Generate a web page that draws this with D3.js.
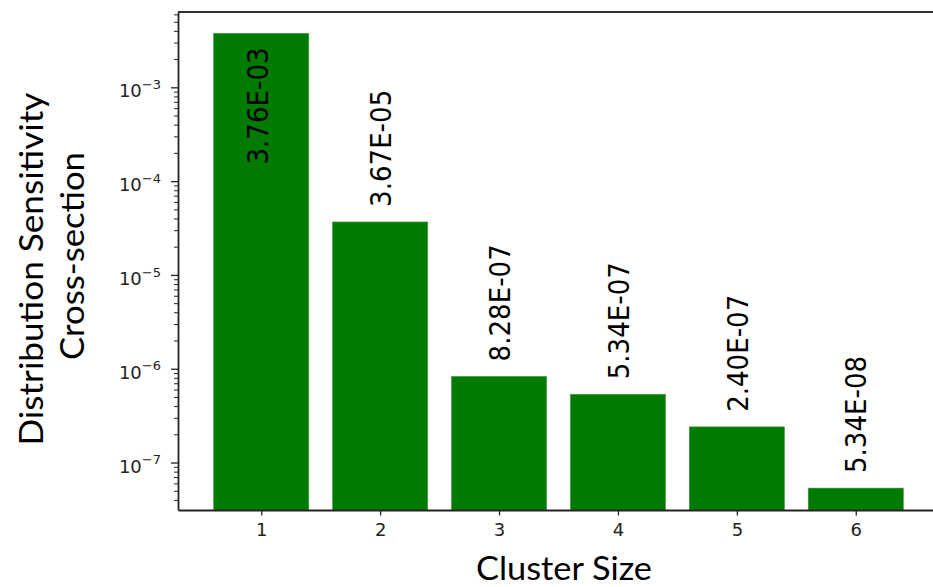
<!DOCTYPE html>
<html>
<head>
<meta charset="utf-8">
<script src="https://cdn.jsdelivr.net/npm/d3@7"></script>
<style>
  html, body { margin: 0; padding: 0; background: #fff; }
  svg { display: block; }
  .tick text { font-family: "DejaVu Sans", sans-serif; fill: #222; }
</style>
</head>
<body>
<svg id="chart" width="933" height="587"></svg>
<script>
// Cluster sizes and their distribution sensitivity cross-sections
const categories = [1, 2, 3, 4, 5, 6];
const values = [3.76e-3, 3.67e-5, 8.28e-7, 5.34e-7, 2.40e-7, 5.34e-8];
// Decade exponents shown on the log axis
const yTickExponents = [-3, -4, -5, -6, -7];
const xTitle = "Cluster Size";
const yTitleLines = ["Distribution Sensitivity", "Cross-section"];

const W = 933, H = 587;
const plot = { left: 178, right: 939, top: 12, bottom: 510 };
const barColor = "#007a00";
const axisColor = "#222";

const svg = d3.select("#chart");

const x = d3.scaleLinear().domain([0.3, 6.7]).range([plot.left, plot.right]);
const y = d3.scaleLog()
  .domain([Math.pow(10, -7.506), Math.pow(10, -2.197)])
  .range([plot.bottom, plot.top]);

// Format like 3.76E-03
function sci(v) {
  const [m, e] = v.toExponential(2).split("e");
  const n = parseInt(e, 10);
  const sign = n < 0 ? "-" : "+";
  return m + "E" + sign + String(Math.abs(n)).padStart(2, "0");
}

// Bars (width 0.8 of a category step)
const bw = 0.8;
svg.append("g").selectAll("rect")
  .data(categories)
  .join("rect")
  .attr("x", (c) => x(c - bw / 2))
  .attr("width", (c) => x(c + bw / 2) - x(c - bw / 2))
  .attr("y", (c, i) => y(values[i]))
  .attr("height", (c, i) => plot.bottom - y(values[i]))
  .attr("fill", barColor)
  .attr("stroke", "#3f9c3f")
  .attr("stroke-width", 0.6);

// Value labels, rotated; placed above the bar or inside when there is no room
const labelSize = 29, labelSquash = 0.9, gap = 15;
const labels = svg.append("g")
  .attr("font-family", "DejaVu Sans, sans-serif")
  .attr("font-size", labelSize)
  .attr("fill", "#000");
categories.forEach((c, i) => {
  const top = y(values[i]);
  const text = sci(values[i]);
  const t = labels.append("text").text(text);
  const len = t.node().getComputedTextLength() * labelSquash;
  const cx = x(c) + labelSize * 0.37;
  if (top - gap - len < plot.top + 4) {
    t.attr("text-anchor", "end")
     .attr("transform", `translate(${cx - 4},${top + 14}) rotate(-90) scale(${labelSquash},1)`);
  } else {
    t.attr("text-anchor", "start")
     .attr("transform", `translate(${cx},${top - gap}) rotate(-90) scale(${labelSquash},1)`);
  }
});

// X axis
const xAxis = svg.append("g")
  .attr("transform", `translate(0,${plot.bottom})`)
  .call(d3.axisBottom(x).tickValues(categories).tickFormat(d3.format("d"))
    .tickSize(5.5).tickSizeOuter(0).tickPadding(8));
xAxis.select(".domain").attr("stroke", axisColor).attr("stroke-width", 1.8);
xAxis.selectAll(".tick line").attr("stroke", axisColor).attr("stroke-width", 1.3);
xAxis.selectAll(".tick text").attr("font-size", 18).attr("fill", "#222");

// Y axis minor ticks (2..9 within each decade)
const minors = [];
for (let k = -8; k <= -2; k++) {
  for (let m = 2; m <= 9; m++) {
    const v = m * Math.pow(10, k);
    if (v >= y.domain()[0] && v <= y.domain()[1]) minors.push(v);
  }
}
const yMinor = svg.append("g")
  .attr("transform", `translate(${plot.left},0)`)
  .call(d3.axisLeft(y).tickValues(minors).tickSize(4).tickFormat(""));
yMinor.select(".domain").remove();
yMinor.selectAll(".tick line").attr("stroke", axisColor).attr("stroke-width", 1);

// Y axis major ticks with 10^n labels
const majors = yTickExponents.map((e) => Math.pow(10, e));
const yAxis = svg.append("g")
  .attr("transform", `translate(${plot.left},0)`)
  .call(d3.axisLeft(y).tickValues(majors).tickSize(7).tickSizeOuter(0).tickFormat(""));
yAxis.select(".domain").attr("stroke", axisColor).attr("stroke-width", 1.8);
yAxis.selectAll(".tick line").attr("stroke", axisColor).attr("stroke-width", 1.3);
yAxis.selectAll(".tick").each(function (d) {
  const e = Math.round(Math.log10(d));
  const t = d3.select(this).append("text")
    .attr("x", -17)
    .attr("y", 9.6)
    .attr("text-anchor", "end")
    .attr("font-size", 18)
    .attr("fill", "#222");
  t.append("tspan").text("10");
  t.append("tspan").attr("font-size", 13).attr("dy", -8.5).text("\u2212" + Math.abs(e));
});

// Top frame line
svg.append("line")
  .attr("x1", plot.left).attr("x2", W)
  .attr("y1", plot.top).attr("y2", plot.top)
  .attr("stroke", "#333").attr("stroke-width", 2);

// Axis titles
const titleFont = "Lato, 'Open Sans', sans-serif";
svg.append("text")
  .attr("x", 564).attr("y", 580)
  .attr("text-anchor", "middle")
  .attr("font-family", titleFont)
  .attr("font-size", 33)
  .attr("textLength", 176)
  .attr("lengthAdjust", "spacingAndGlyphs")
  .attr("fill", "#000")
  .text(xTitle);

const yTitlePos = [[43, 269, 353], [84, 256, 208]];
yTitleLines.forEach((line, i) => {
  const [tx, ty, len] = yTitlePos[i];
  svg.append("text")
    .attr("transform", `translate(${tx},${ty}) rotate(-90)`)
    .attr("text-anchor", "middle")
    .attr("font-family", titleFont)
    .attr("font-size", 33)
    .attr("textLength", len)
    .attr("lengthAdjust", "spacingAndGlyphs")
    .attr("fill", "#000")
    .text(line);
});
</script>
</body>
</html>
